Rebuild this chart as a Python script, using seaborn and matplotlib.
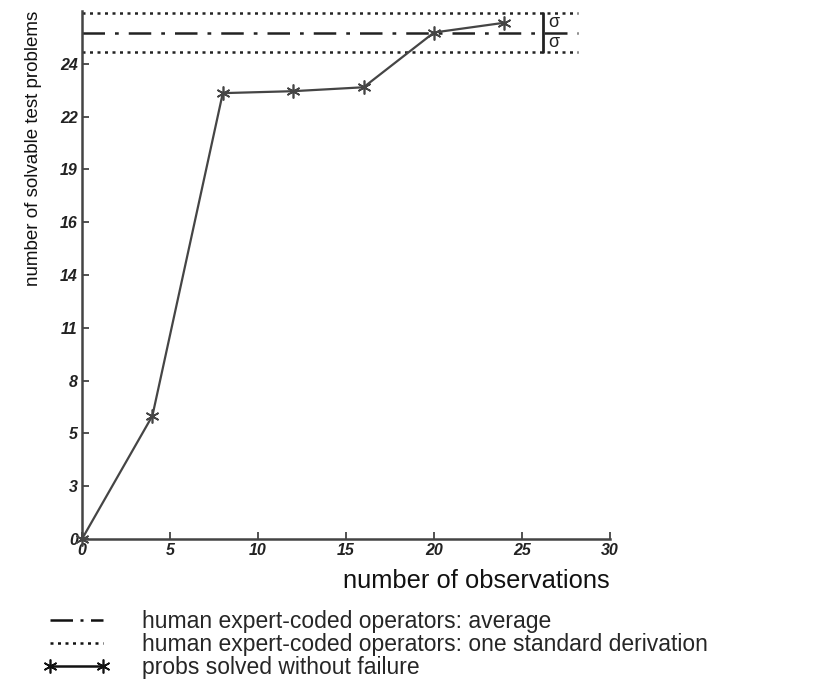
import numpy as np
import pandas as pd
import matplotlib
matplotlib.use("Agg")
import matplotlib.pyplot as plt
from matplotlib.lines import Line2D
import seaborn as sns

# ---- data ----
observations = [0, 4, 8, 12, 16, 20, 24]
solved = [0, 6.3, 22.8, 22.9, 23.1, 25.9, 26.4]
human_mean = 25.9
human_sd = 1.0
x_ticks = [0, 5, 10, 15, 20, 25, 30]
y_ticks = [0, 2.7, 5.4, 8.1, 10.8, 13.5, 16.2, 18.9, 21.6, 24.3]
y_tick_labels = ["0", "3", "5", "8", "11", "14", "16", "19", "22", "24"]
legend_labels = [
    "human expert-coded operators: average",
    "human expert-coded operators: one standard derivation",
    "probs solved without failure",
]

sns.set_theme(style="ticks")
plt.rcParams["font.family"] = ["Liberation Sans", "DejaVu Sans"]

fig = plt.figure(figsize=(8.17, 6.88), dpi=100)
ax = fig.add_axes([82 / 817, 1 - 539 / 688, (610 - 82) / 817, 528 / 688])

df = pd.DataFrame({"obs": observations, "solved": solved})
col = "#454545"
sns.lineplot(data=df, x="obs", y="solved", ax=ax, color=col, linewidth=1.6,
             marker=(6, 2, 0), markersize=10, markeredgewidth=1.2,
             markeredgecolor=col, clip_on=False, zorder=5)

x_end = 28.2
ax.plot([0, x_end], [human_mean, human_mean], color="#222222", lw=1.8,
        dashes=(9, 4, 1.5, 4), clip_on=False)
for v in (human_mean + human_sd, human_mean - human_sd):
    ax.plot([0, x_end], [v, v], color="#222222", lw=1.8,
            dashes=(1.2, 1.8), clip_on=False)
bx = 26.2
ax.plot([bx, bx], [human_mean - human_sd, human_mean + human_sd],
        color="#222222", lw=2, clip_on=False)
ax.text(bx + 0.3, human_mean + human_sd / 2, "σ", fontsize=13, va="center",
        ha="left", color="#222222")
ax.text(bx + 0.3, human_mean - human_sd / 2, "σ", fontsize=13, va="center",
        ha="left", color="#222222")

ax.set_xlim(0, 30)
ax.set_ylim(0, 27)
ax.set_xticks(x_ticks)
ax.set_xticklabels([str(t) for t in x_ticks], fontsize=11.5, fontweight="bold",
                   fontstyle="italic")
ax.set_yticks(y_ticks)
ax.set_yticklabels(y_tick_labels, fontsize=11.5, fontweight="bold",
                   fontstyle="italic")
ax.tick_params(direction="in", length=5, width=1.2, colors="#333333",
               labelcolor="#222222", pad=3)
sns.despine(ax=ax)
for s in ("left", "bottom"):
    ax.spines[s].set_linewidth(1.8)
    ax.spines[s].set_color("#444444")

ax.set_xlabel("number of observations", fontsize=18.4, loc="right", labelpad=8,
              color="#111111")
ax.set_ylabel("number of solvable test problems", fontsize=13.5, loc="top",
              labelpad=13, color="#111111")

handles = [
    Line2D([], [], color="#111111", lw=1.8, dashes=(9, 3, 1.2, 3)),
    Line2D([], [], color="#111111", lw=1.8, dashes=(1.2, 1.8)),
    Line2D([], [], color="#111111", lw=1.8, marker=(6, 2, 0), markersize=10,
           markeredgewidth=1.2),
]
fig.legend(handles, legend_labels, loc="upper left",
           bbox_to_anchor=(43 / 817, 1 - 610 / 688), frameon=False,
           fontsize=16.5, handlelength=2.9, handletextpad=1.4,
           labelspacing=0.0, numpoints=2, borderaxespad=0, borderpad=0)

fig.savefig("out.png", dpi=100)
